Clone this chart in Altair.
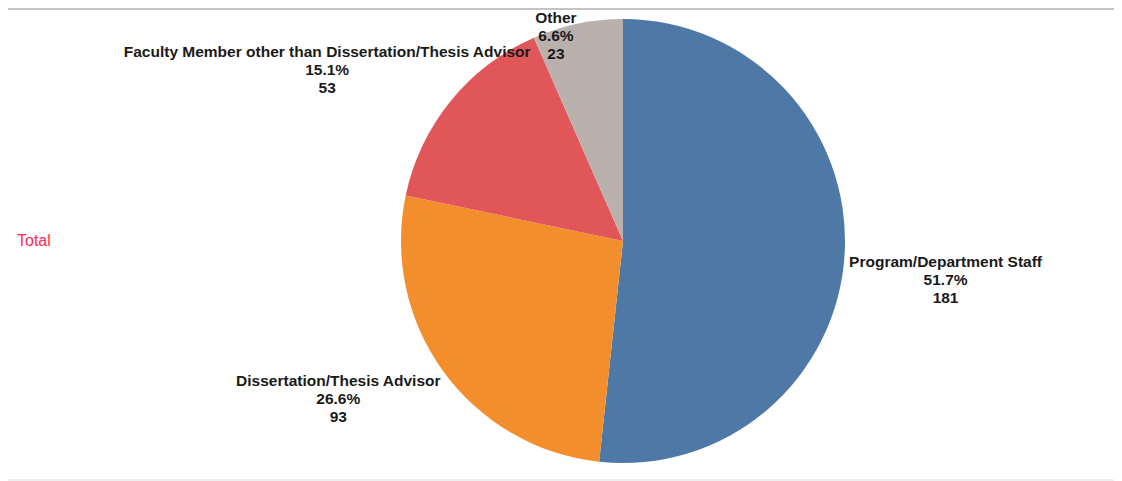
import altair as alt
import pandas as pd

categories = [
    "Program/Department Staff",
    "Dissertation/Thesis Advisor",
    "Faculty Member other than Dissertation/Thesis Advisor",
    "Other",
]
counts = [181, 93, 53, 23]
percents = ["51.7%", "26.6%", "15.1%", "6.6%"]
colors = ["#4E79A7", "#F28E2B", "#E15759", "#BAB0AC"]
group_label = "Total"

df = pd.DataFrame({"category": categories, "count": counts, "pct": percents,
                   "order": list(range(len(categories)))})
df["label"] = df["category"] + "\n" + df["pct"] + "\n" + df["count"].astype(str)

pie = alt.Chart(df).mark_arc(radius=222).encode(
    theta=alt.Theta("count:Q", stack=True),
    order=alt.Order("order:Q"),
    color=alt.Color("category:N", scale=alt.Scale(domain=categories, range=colors), legend=None),
)

lab_base = (
    alt.Chart(df)
    .transform_joinaggregate(total="sum(count)")
    .transform_window(cum="sum(count)", sort=[alt.SortField("order")])
    .transform_calculate(ang="(datum.cum - datum.count/2) / datum.total * 2 * PI")
)

# (radius, dx, dy) per label, to mimic the original label placement
placements = {
    categories[0]: (300, 23, 5),
    categories[1]: (300, -42, -36),
    categories[2]: (300, -63, 0),
    categories[3]: (210, -24, -17),
}

label_layers = []
for cat, (r, dx, dy) in placements.items():
    label_layers.append(
        lab_base.transform_filter(alt.datum.category == cat)
        .mark_text(radius=r, dx=dx, dy=dy, lineBreak="\n", lineHeight=18,
                   fontSize=15.5, fontWeight="bold", font="Liberation Sans",
                   color="#1a1a1a", align="center", baseline="middle")
        .encode(theta=alt.Theta("ang:Q", scale=None), text="label:N")
    )

one = pd.DataFrame({"t": [group_label]})
total_txt = alt.Chart(one).mark_text(align="left", baseline="middle", fontSize=16,
                                     font="Liberation Sans", color="#FF2A4D").encode(
    text="t:N", x=alt.value(-115), y=alt.value(225))

top_rule = alt.Chart(one).mark_rule(color="#c4c4c4", strokeWidth=2).encode(
    x=alt.value(-124), x2=alt.value(982), y=alt.value(-7))
bottom_rule = alt.Chart(one).mark_rule(color="#dddddd", strokeWidth=1).encode(
    x=alt.value(-124), x2=alt.value(982), y=alt.value(464))

chart = alt.layer(top_rule, bottom_rule, pie, *label_layers, total_txt).properties(
    width=982, height=450,
    padding={"left": 124, "top": 8, "right": 0, "bottom": 15},
    autosize=alt.AutoSizeParams(type="none"),
).configure_view(stroke=None)

chart.save("out.html", embed_options={"renderer": "svg", "actions": False})
